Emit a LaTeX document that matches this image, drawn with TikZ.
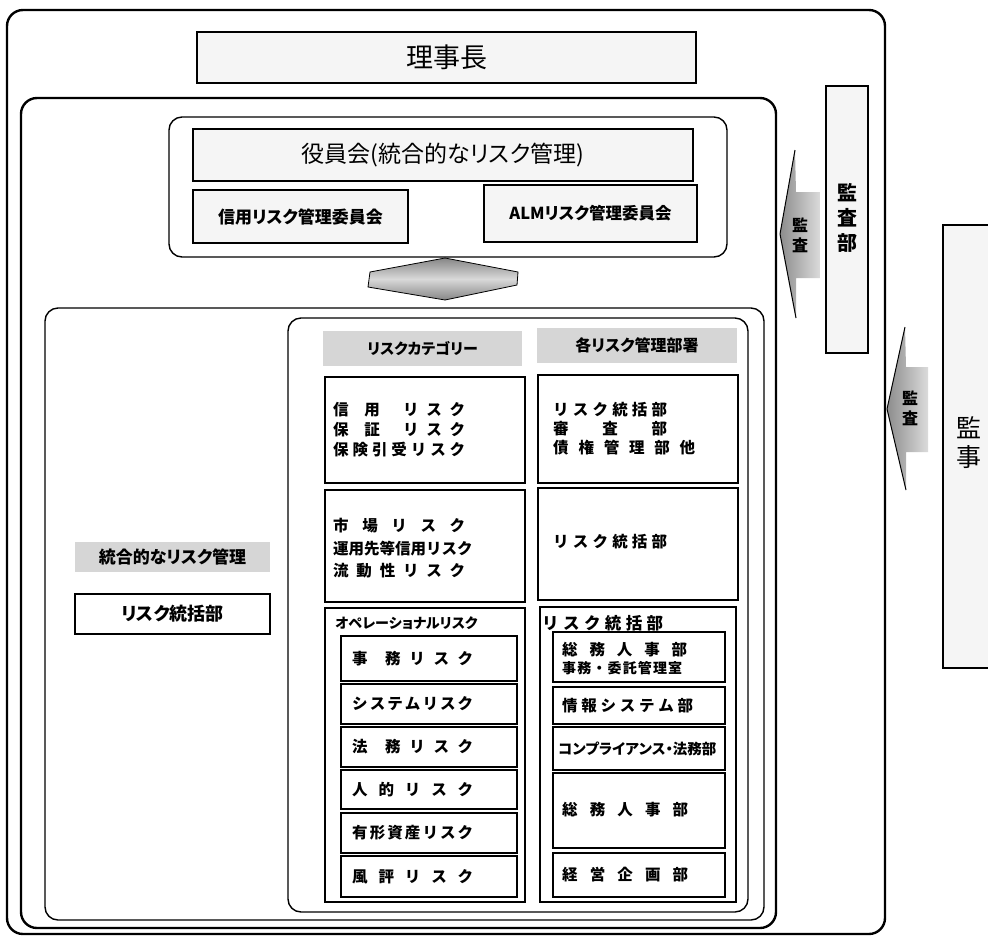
\documentclass[tikz,border=0pt]{standalone}
\usepackage{fontspec}
\setmainfont{Noto Sans CJK JP}
\newfontfamily\jpp[RawFeature=+palt]{Noto Sans CJK JP}
\usetikzlibrary{fit}
\newcommand\sj[2]{\makebox[#1pt][s]{#2}}
\newcommand\fs[1]{\fontsize{#1}{#1}\selectfont}
\begin{document}
\begin{tikzpicture}[x=1pt,y=-1pt,
  frame/.style={draw, line width=2.4pt, rounded corners=16pt, inner sep=0pt},
  panel/.style={draw, line width=1.4pt, rounded corners=13pt, inner sep=0pt},
  ebox/.style={draw, line width=1.2pt, inner sep=0pt},
  gbox/.style={draw, line width=1.2pt, fill=gray!8, inner sep=0pt},
  hdr/.style={fill=gray!32, inner sep=0pt},
  lab/.style={inner sep=0pt},
  tx/.style={inner sep=0pt, anchor=west, font=\bfseries\fs{15.5}},
  vt/.style={inner sep=0pt, font=\bfseries\fs{20}},
  arr/.style={left color=gray!90, right color=gray!28},
  edge/.style={line width=1pt, line join=round}]
\useasboundingbox (0,0) rectangle (988,938);
\fill[white] (0,0) rectangle (988,938);

% frames
\node[frame, fit={(7,10)(885,934)}] (outer) {};
\node[frame, fit={(21,98)(776,928)}] (inner) {};
\node[panel, fit={(169,117)(727,257)}] (board) {};
\node[panel, fit={(45,308)(764,920)}] (riskarea) {};
\node[panel, fit={(288,318)(748,912)}] (table) {};

% top
\node[gbox, fit={(197,32)(696,83)}] (rijicho) {};
\node[lab, font=\fs{27}] (rijichot) at (rijicho.center) {理事長};
\node[gbox, fit={(193,129)(693,181)}] (yakuin) {};
\node[lab, font=\jpp\fs{23}] (yakuint) at (yakuin.center) {役員会(統合的なリスク管理)};
\node[gbox, fit={(193,190)(408,243)}] (shinyo) {};
\node[lab, font=\jpp\bfseries\fs{17}] (shinyot) at (shinyo.center) {信用リスク管理委員会};
\node[gbox, fit={(484,185)(697,242)}] (alm) {};
\node[lab, font=\jpp\bfseries\fs{16.5}] (almt) at (alm.center) {ALMリスク管理委員会};

% double arrow
\shade[top color=gray!95, bottom color=gray!95, middle color=gray!30, draw=black, line width=0.8pt]
  (445,258) -- (518,272) -- (517,285) -- (445,300) -- (368,287) -- (370,272) -- cycle;

% audit department
\node[gbox, fit={(826,86)(868,353)}] (kansabu) {};
\node[vt] (kb1) at (847,193) {監};
\node[vt] (kb2) at (847,218) {査};
\node[vt] (kb3) at (847,243) {部};

% kanji box
\node[gbox, fit={(943,225)(1000,668)}] (kanji) {};
\node[lab, font=\fs{25}] (kj1) at (969,428) {監};
\node[lab, font=\fs{25}] (kj2) at (969,457) {事};

% audit arrows
\shade[arr] (780,234) -- (795,150) -- (796,192) -- (820,192) -- (820,278) -- (796,278) -- (796,318) -- cycle;
\draw[edge] (795,150) -- (780,234) -- (796,318);
\node[lab, font=\bfseries\fs{16}] (a1a) at (800,225) {監};
\node[lab, font=\bfseries\fs{16}] (a1b) at (800,245) {査};
\shade[arr] (887,409) -- (905,327) -- (906,367) -- (928,367) -- (928,452) -- (906,452) -- (906,490) -- cycle;
\draw[edge] (905,327) -- (887,409) -- (906,490);
\node[lab, font=\bfseries\fs{16}] (a2a) at (910,398) {監};
\node[lab, font=\bfseries\fs{16}] (a2b) at (910,418) {査};

% left area
\node[hdr, fit={(75,542)(270,572)}] (togo) {};
\node[lab, font=\jpp\bfseries\fs{17}] (togot) at (togo.center) {統合的なリスク管理};
\node[ebox, fit={(75,594)(270,634)}] (tokatsu) {};
\node[lab, font=\jpp\bfseries\fs{18}] (tokatsut) at (tokatsu.center) {リスク統括部};

% headers
\node[hdr, fit={(323,331)(522,366)}] (cathdr) {};
\node[lab, font=\jpp\bfseries\fs{15}] (cathdrt) at (cathdr.center) {リスクカテゴリー};
\node[hdr, fit={(537,328)(737,363)}] (depthdr) {};
\node[lab, font=\jpp\bfseries\fs{16}] (depthdrt) at (depthdr.center) {各リスク管理部署};

% category boxes
\node[ebox, fit={(325,377)(525,483)}] (c1) {};
\node[ebox, fit={(325,490)(525,602)}] (c2) {};
\node[ebox, fit={(325,608)(525,902)}] (c3) {};
\node[tx] (c1a) at (333,410) {\sj{132}{信\hfil\hfil 用\hfil\hfil\hfil リ\hfil ス\hfil ク}};
\node[tx] (c1b) at (333,430) {\sj{132}{保\hfil\hfil 証\hfil\hfil\hfil リ\hfil ス\hfil ク}};
\node[tx] (c1c) at (333,450) {\sj{132}{保\hfil 険\hfil 引\hfil 受\hfil リ\hfil ス\hfil ク}};
\node[tx] (c2a) at (333,526) {\sj{132}{市\hfil 場\hfil リ\hfil ス\hfil ク}};
\node[tx] (c2b) at (333,549) {\sj{129}{運\hfil 用\hfil 先\hfil 等\hfil 信\hfil 用\hfil リ\hfil ス\hfil ク}};
\node[tx] (c2c) at (333,571) {\sj{132}{流\hfil 動\hfil 性\hfil リ\hfil ス\hfil ク}};
\node[tx, font=\jpp\bfseries\fs{14}] (c3h) at (335,623) {\sj{133}{オ\hfil ペ\hfil レ\hfil ー\hfil シ\hfil ョ\hfil ナ\hfil ル\hfil リ\hfil ス\hfil ク}};

% operational sub boxes
\node[ebox, fit={(341,636)(517,681)}] (o1) {};
\node[ebox, fit={(341,684)(517,724)}] (o2) {};
\node[ebox, fit={(341,727)(517,767)}] (o3) {};
\node[ebox, fit={(341,770)(517,809)}] (o4) {};
\node[ebox, fit={(341,813)(517,853)}] (o5) {};
\node[ebox, fit={(341,856)(517,897)}] (o6) {};
\node[tx] (o1t) at (352,658.5) {\sj{121}{事\hfil\hfil 務\hfil リ\hfil ス\hfil ク}};
\node[tx] (o2t) at (352,704) {\sj{121}{シ\hfil ス\hfil テ\hfil ム\hfil リ\hfil ス\hfil ク}};
\node[tx] (o3t) at (352,747) {\sj{121}{法\hfil\hfil 務\hfil リ\hfil ス\hfil ク}};
\node[tx] (o4t) at (352,789.5) {\sj{121}{人\hfil 的\hfil リ\hfil ス\hfil ク}};
\node[tx] (o5t) at (352,833) {\sj{121}{有\hfil 形\hfil 資\hfil 産\hfil リ\hfil ス\hfil ク}};
\node[tx] (o6t) at (352,876.5) {\sj{121}{風\hfil 評\hfil リ\hfil ス\hfil ク}};

% department boxes
\node[ebox, fit={(538,375)(738,483)}] (d1) {};
\node[ebox, fit={(538,488)(738,600)}] (d2) {};
\node[ebox, fit={(540,607)(736,902)}] (d3) {};
\node[tx] (d1a) at (553,410) {\sj{114}{リ\hfil ス\hfil ク\hfil 統\hfil 括\hfil 部}};
\node[tx] (d1b) at (553,429) {\sj{114}{審\hfil 査\hfil 部}};
\node[tx] (d1c) at (553,448) {\sj{142}{債\hfil 権\hfil 管\hfil 理\hfil 部\hfil 他}};
\node[tx] (d2a) at (553,542) {\sj{114}{リ\hfil ス\hfil ク\hfil 統\hfil 括\hfil 部}};
\node[tx, font=\bfseries\fs{16.5}] (d3h) at (542,623) {\sj{121}{リ\hfil ス\hfil ク\hfil 統\hfil 括\hfil 部}};

% department sub boxes
\node[ebox, fit={(553,632)(725,682)}] (s1) {};
\node[ebox, fit={(553,687)(725,724)}] (s2) {};
\node[ebox, fit={(553,727)(725,770)}] (s3) {};
\node[ebox, fit={(553,773)(725,848)}] (s4) {};
\node[ebox, fit={(553,853)(725,897)}] (s5) {};
\node[tx] (s1a) at (562,650) {\sj{125}{総\hfil 務\hfil 人\hfil 事\hfil 部}};
\node[tx, font=\bfseries\fs{14}] (s1b) at (562,668) {\sj{120}{事\hfil 務\hfil ・\hfil 委\hfil 託\hfil 管\hfil 理\hfil 室}};
\node[tx] (s2t) at (562,706) {\sj{131}{情\hfil 報\hfil シ\hfil ス\hfil テ\hfil ム\hfil 部}};
\node[tx, font=\jpp\bfseries\fs{14.5}] (s3t) at (558,749) {\sj{154}{コ\hfil ン\hfil プ\hfil ラ\hfil イ\hfil ア\hfil ン\hfil ス\hfil ・\hfil 法\hfil 務\hfil 部}};
\node[tx] (s4t) at (562,810) {\sj{126}{総\hfil 務\hfil 人\hfil 事\hfil 部}};
\node[tx] (s5t) at (562,875) {\sj{126}{経\hfil 営\hfil 企\hfil 画\hfil 部}};
\end{tikzpicture}
\end{document}
